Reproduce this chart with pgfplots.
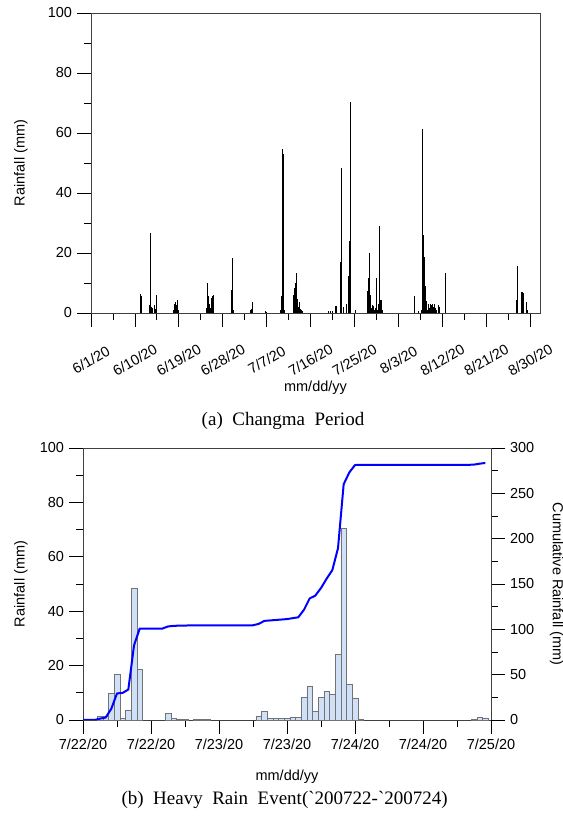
\documentclass[border=0pt]{standalone}
\usepackage{fontspec}
\setmainfont{Liberation Sans}
\newfontfamily\capfont{Liberation Serif}
\usepackage{pgfplots}
\usepackage{pgfplotstable}
\pgfplotsset{compat=1.18}

% daily spikes, Changma period (day 0 = 6/1/20)
\pgfplotstableread{
day mm
10.2 6.3
10.3 5.8
11.9 2.0
12.0 2.5
12.1 26.7
12.2 18.3
12.3 2.0
12.5 1.5
13.0 2.5
13.3 1.2
13.5 6.0
17.0 1.0
17.2 3.0
17.4 3.8
17.6 2.5
17.8 4.4
18.0 1.0
23.6 1.5
23.8 3.0
23.9 10.1
24.0 5.7
24.2 3.0
24.4 1.5
24.6 5.0
24.8 5.5
25.0 6.0
25.1 2.0
28.7 7.7
28.8 7.7
28.9 17.5
29.0 18.4
29.1 1.0
32.6 1.0
32.8 1.3
33.0 3.7
35.8 0.5
35.9 0.3
38.9 1.0
39.0 1.0
39.1 5.7
39.3 54.7
39.4 53.0
39.6 1.0
41.4 1.0
41.5 6.0
41.6 8.2
41.8 8.2
41.9 10.0
42.0 7.5
42.1 13.4
42.2 8.0
42.4 4.8
42.6 2.0
42.8 3.5
43.0 1.2
43.2 1.0
43.4 0.5
48.6 0.5
49.0 0.5
49.4 0.5
50.2 2.3
50.3 2.3
51.1 1.0
51.2 16.9
51.4 48.4
51.7 2.0
52.4 2.9
52.8 12.3
52.9 24.0
53.1 70.2
54.1 1.0
56.6 7.3
56.7 7.3
56.9 11.8
57.1 19.9
57.2 6.0
57.4 1.5
57.6 2.5
57.8 2.2
58.0 1.0
58.3 1.5
58.6 11.6
58.8 1.0
59.0 3.0
59.1 29.1
59.3 4.3
59.5 4.3
59.7 1.0
66.3 5.8
67.1 0.5
67.8 1.0
67.9 61.3
68.0 26.0
68.1 26.0
68.2 18.8
68.3 18.8
68.4 9.0
68.5 9.0
68.6 4.0
68.8 3.9
69.0 1.0
69.2 3.0
69.4 1.5
69.6 3.0
69.8 2.5
70.0 3.0
70.2 2.0
70.4 3.0
70.6 1.5
70.8 1.0
71.2 2.5
71.4 2.0
72.6 13.2
72.7 8.4
87.2 4.3
87.3 15.7
87.4 1.0
88.2 1.0
88.3 6.9
88.5 6.9
88.6 6.5
89.2 3.5
89.4 1.0
}\changma

% hourly rainfall, 7/22 00h = 0
\pgfplotstableread{
hr mm
3 1.5
4 1.2
5 9.8
6 16.8
7 0.6
8 3.7
9 48.5
10 18.7
15 2.4
16 0.6
17 0.3
18 0.1
20 0.1
21 0.1
22 0.1
31 1.5
32 3.3
33 0.5
34 0.5
35 0.5
36 0.5
37 1.0
38 1.0
39 8.3
40 12.5
41 3.1
42 8.3
43 10.4
44 9.4
45 24.2
46 70.5
47 13.1
48 8.1
49 0.2
69 0.3
70 1.0
71 0.8
}\hourly

\pgfplotstableread{
hr cum
0 0
1 0
2 0
3 1.5
4 2.7
5 12.5
6 29.3
7 29.9
8 33.6
9 82.1
10 100.8
14 100.8
15 103.2
16 103.8
17 104.1
18 104.2
22 104.5
30 104.5
31 106.0
32 109.3
33 109.8
34 110.3
35 110.8
36 111.3
37 112.3
38 113.3
39 121.6
40 134.1
41 137.2
42 145.5
43 155.9
44 165.3
45 189.5
46 260.0
47 273.1
48 281.2
49 281.4
68 281.4
69 281.7
70 282.7
71 283.5
}\cumul

\definecolor{barfill}{RGB}{208,224,246}

\pgfplotsset{
  every axis/.append style={
    scale only axis,
    anchor=south west,
    tick align=outside,
    major tick length=14bp,
    minor tick length=7bp,
    tick style={black, line width=0.8bp},
    axis line style={black!75, line width=0.8bp},
    /pgf/number format/assume math mode=true,
  },
}

\begin{document}
\fontsize{14.5bp}{17bp}\selectfont
\begin{tikzpicture}
\path[use as bounding box] (0,0) rectangle (563bp,816bp);

\begin{axis}[
    at={(91bp,503bp)},
    width=449bp, height=300bp,
    xmin=0, xmax=92, ymin=0, ymax=100,
    xtick={0,9,...,90},
    xticklabels={6/1/20,6/10/20,6/19/20,6/28/20,7/7/20,7/16/20,7/25/20,8/3/20,8/12/20,8/21/20,8/30/20},
    minor x tick num=1,
    ytick={0,20,...,100},
    minor y tick num=1,
    xtick pos=left, ytick pos=left,
    xticklabel style={yshift=-33bp, rotate=30, anchor=center},
    xlabel={mm/dd/yy},
    xlabel style={at={(axis description cs:0.5,-0.25)}, anchor=center},
    ylabel={Rainfall (mm)},
    ylabel style={at={(axis description cs:-0.156,0.5)}, anchor=center},
]
\addplot[ycomb, black, line width=1bp, mark=none] table[x=day, y=mm] {\changma};
\end{axis}

\node[font=\capfont\fontsize{19bp}{22bp}\selectfont] at (283bp,395bp)
  {(a)\ \ Changma\ \ Period};

\begin{axis}[
    at={(83bp,96bp)},
    width=408bp, height=272bp,
    xmin=0, xmax=72, ymin=0, ymax=100,
    xtick={0,12,...,72},
    xticklabels={7/22/20,7/22/20,7/23/20,7/23/20,7/24/20,7/24/20,7/25/20},
    minor x tick num=1,
    ytick={0,20,...,100},
    minor y tick num=1,
    xtick pos=left, ytick pos=left,
    xlabel={mm/dd/yy},
    xlabel style={at={(axis description cs:0.5,-0.21)}, anchor=center},
    ylabel={Rainfall (mm)},
    ylabel style={at={(axis description cs:-0.152,0.5)}, anchor=center},
]
\addplot[ybar, bar width=1, fill=barfill, draw=black!55, line width=0.6bp]
  table[x=hr, y=mm] {\hourly};
\end{axis}

\begin{axis}[
    at={(83bp,96bp)},
    width=408bp, height=272bp,
    xmin=0, xmax=72, ymin=0, ymax=300,
    axis x line=none,
    axis y line*=right,
    ytick={0,50,...,300},
    minor y tick num=1,
    ylabel={Cumulative Rainfall (mm)},
    ylabel style={at={(axis description cs:1.161,0.5)}, anchor=center, rotate=180},
]
\addplot[blue, line width=2bp, line join=round, mark=none] table[x=hr, y=cum] {\cumul};
\end{axis}

\node[font=\capfont\fontsize{19bp}{22bp}\selectfont] at (284.6bp,16bp)
  {(b)\ \ Heavy\ \ Rain\ \ Event(\textasciigrave 200722-\textasciigrave 200724)};
\end{tikzpicture}
\end{document}
